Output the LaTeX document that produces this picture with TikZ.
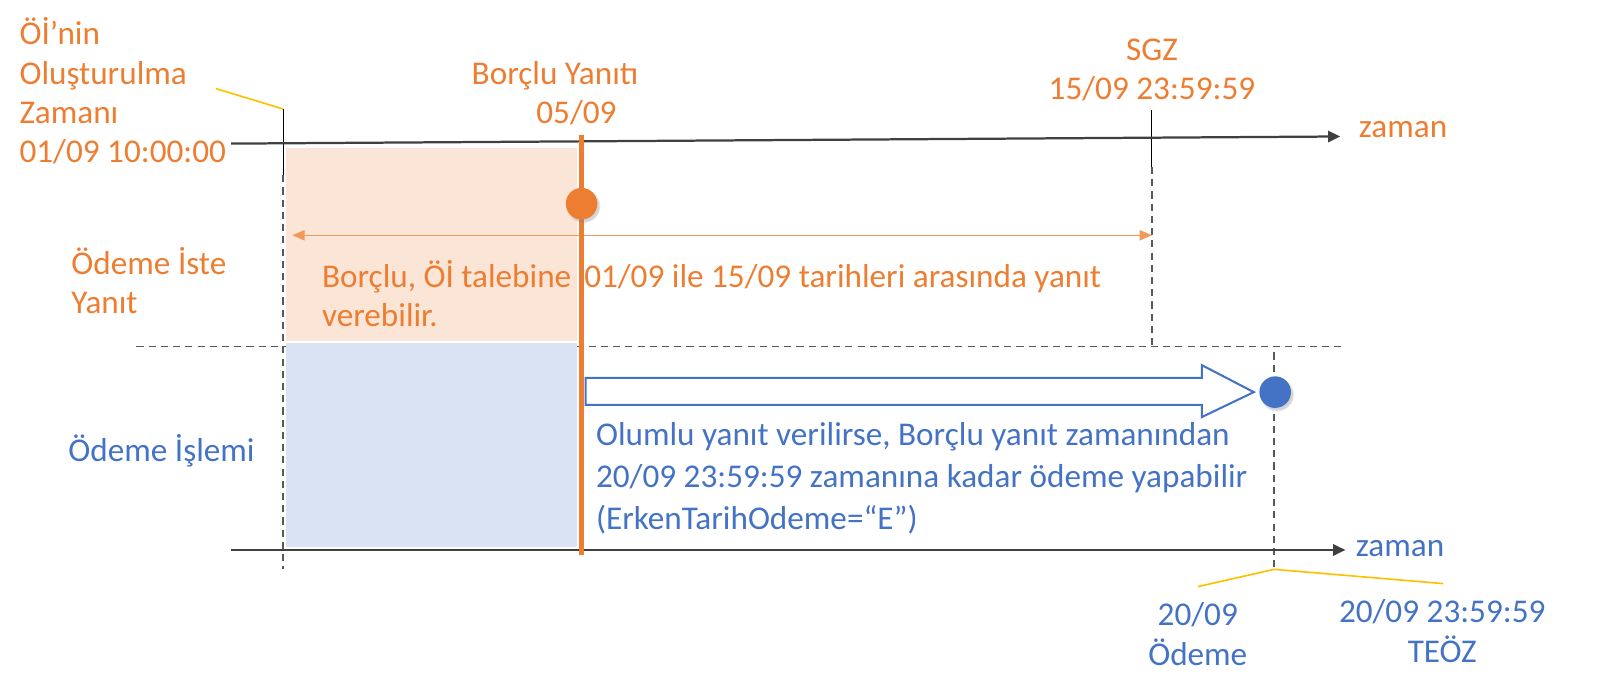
\documentclass[tikz,border=0pt]{standalone}
\usepackage{fontspec}
\setmainfont{Carlito}
\usetikzlibrary{arrows.meta,shadows}
\definecolor{orng}{HTML}{ED7D31}
\definecolor{orngl}{HTML}{F19A5C}
\definecolor{blu}{HTML}{4472C4}
\definecolor{ofill}{HTML}{FBE5D6}
\definecolor{bfill}{HTML}{DAE3F3}
\definecolor{ylw}{HTML}{FFC000}
\definecolor{axisc}{HTML}{404040}
\definecolor{dsh}{HTML}{595959}
\begin{document}
\begin{tikzpicture}[x=1pt,y=-1pt,
  txt/.style={inner sep=0pt, font=\fontsize{32.6}{39}\selectfont},
  otxt/.style={txt, text=orng},
  btxt/.style={txt, text=blu},
  axisline/.style={draw=axisc, line width=2.2pt, -{Triangle[length=12pt,width=11pt]}},
  guide/.style={draw=dsh, line width=1.5pt, dash pattern=on 7pt off 5pt},
  tickline/.style={draw=black, line width=1pt},
  callout/.style={draw=ylw, line width=1.6pt},
  spanarrow/.style={draw=orngl, line width=1.5pt, {Triangle[length=12pt,width=10pt]}-{Triangle[length=12pt,width=10pt]}},
]
\useasboundingbox (0,0) rectangle (1568,682);

% coordinates
\coordinate (t1s) at (227,141);
\coordinate (t1e) at (1316,134);
\coordinate (t2s) at (227,540);
\coordinate (t2e) at (1321,540);
\coordinate (lcall) at (212,87);
\coordinate (ltop) at (278,107);
\coordinate (lmid) at (278,172);
\coordinate (lbot) at (278,559);
\coordinate (stop) at (1131,108);
\coordinate (smid) at (1131,164);
\coordinate (sbot) at (1131,340);
\coordinate (hl) at (134,340);
\coordinate (hr) at (1321,340);
\coordinate (btop) at (1251,346);
\coordinate (bbot) at (1251,559);
\coordinate (bcl) at (1176,576);
\coordinate (bcr) at (1417,573);
\coordinate (aL) at (287,231);
\coordinate (aR) at (1131,231);
\coordinate (oT) at (571,133);
\coordinate (oB) at (571,545);

% guides
\draw[guide] (hl) -- (hr);
\draw[guide] (lmid) -- (lbot);
\draw[guide] (smid) -- (sbot);
\draw[guide] (btop) -- (bbot);
\draw[tickline] (ltop) -- (lmid);
\draw[tickline] (stop) -- (smid);

% shaded regions
\fill[ofill] (281,145) rectangle (567,334.5);
\fill[bfill] (281,337) rectangle (567,537);

% timelines
\draw[axisline] (t1s) -- (t1e);
\draw[axisline] (t2s) -- (t2e);

% callouts
\draw[callout] (lcall) -- (ltop);
\draw[callout] (bcl) -- (bbot) -- (bcr);

% span arrow
\draw[spanarrow] (aL) -- (aR);

% texts (orange)
\node[otxt, anchor=base west] (o1) at (19,44) {Öİ’nin};
\node[otxt, anchor=base west] (o2) at (19,82.5) {Oluşturulma};
\node[otxt, anchor=base west] (o3) at (19,121) {Zamanı};
\node[otxt, anchor=base west] (o4) at (19,160) {01/09 10:00:00};
\node[otxt, anchor=base] (by1) at (545,83) {Borçlu Yanıtı};
\node[otxt, anchor=base] (by2) at (566,121) {05/09};
\node[otxt, anchor=base] (sg1) at (1131,59) {SGZ};
\node[otxt, anchor=base] (sg2) at (1131,98) {15/09 23:59:59};
\node[otxt, anchor=base west] (z1) at (1334,135) {zaman};
\node[otxt, anchor=base west] (oi1) at (70,270) {Ödeme İste};
\node[otxt, anchor=base west] (oi2) at (70,308) {Yanıt};
\node[otxt, anchor=base west] (d1) at (316,282) {Borçlu, Öİ talebine \,01/09 ile 15/09 tarihleri arasında yanıt};
\node[otxt, anchor=base west] (d2) at (316,321) {verebilir.};

% texts (blue)
\node[btxt, anchor=base west] (oe) at (67,453) {Ödeme İşlemi};
\node[btxt, anchor=base west] (b1) at (585,437) {Olumlu yanıt verilirse, Borçlu yanıt zamanından};
\node[btxt, anchor=base west] (b2) at (585,479) {20/09 23:59:59 zamanına kadar ödeme yapabilir};
\node[btxt, anchor=base west] (b3) at (585,520) {(ErkenTarihOdeme=“E”)};
\node[btxt, anchor=base west] (z2) at (1331,546) {zaman};
\node[btxt, anchor=base] (p1) at (1176,614) {20/09};
\node[btxt, anchor=base] (p2) at (1176,653) {Ödeme};
\node[btxt, anchor=base] (te1) at (1416,611) {20/09 23:59:59};
\node[btxt, anchor=base] (te2) at (1416,650) {TEÖZ};

% block arrow
\draw[blu, line width=2pt, fill=white, line join=miter]
  (575,371) -- (1180,371) -- (1180,358.5) -- (1231,385) -- (1180,409.5) -- (1180,397.5) -- (575,397.5) -- cycle;

% orange response line
\draw[orng, line width=5pt] (oT) -- (oB);

% dots
\node[circle, minimum size=31pt, inner sep=0pt, fill=orng, circular drop shadow={shadow xshift=1.5pt, shadow yshift=-2pt, opacity=0.35}] (odot) at (571,200) {};
\node[circle, minimum size=31pt, inner sep=0pt, fill=blu, circular drop shadow={shadow xshift=1.5pt, shadow yshift=-2pt, opacity=0.35}] (bdot) at (1252,385) {};
\end{tikzpicture}
\end{document}
